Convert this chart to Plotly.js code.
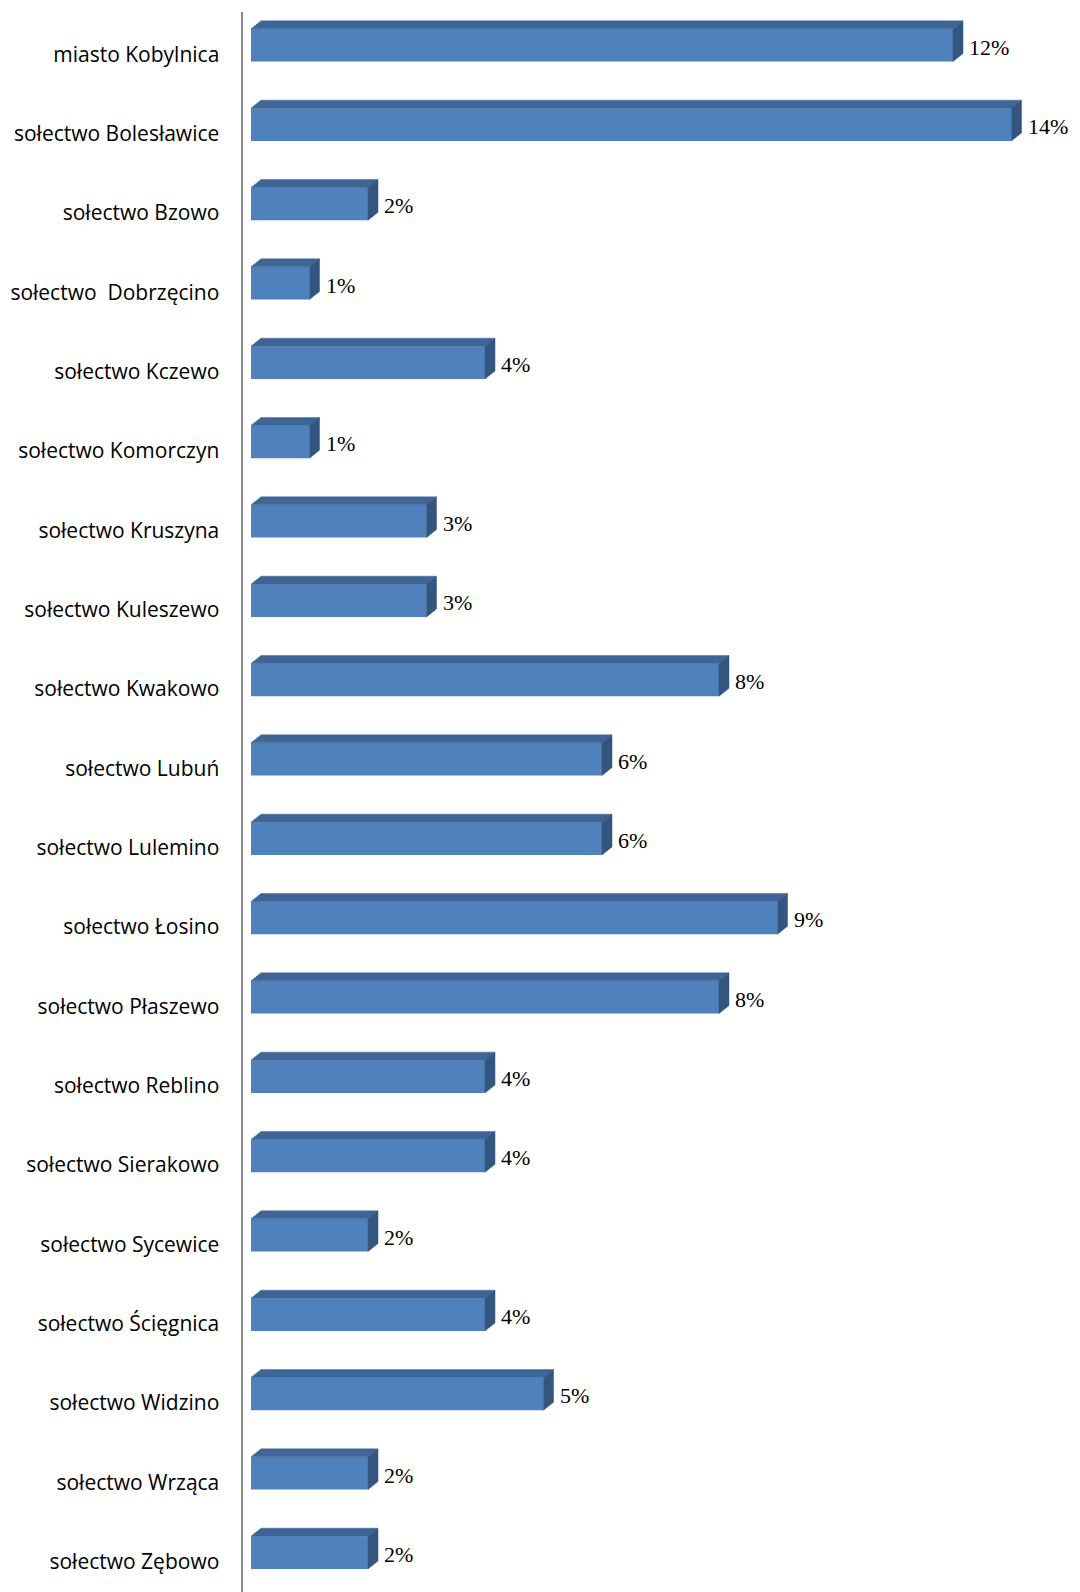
<!DOCTYPE html>
<html><head><meta charset="utf-8">
<script src="https://cdn.plot.ly/plotly-3.0.1.min.js"></script>
<style>html,body{margin:0;padding:0;background:#fff}</style>
</head><body><div id="chart" style="width:1080px;height:1592px"></div>
<script>
const categories = ['miasto Kobylnica','sołectwo Bolesławice','sołectwo Bzowo','sołectwo \u00a0Dobrzęcino','sołectwo Kczewo','sołectwo Komorczyn','sołectwo Kruszyna','sołectwo Kuleszewo','sołectwo Kwakowo','sołectwo Lubuń','sołectwo Lulemino','sołectwo Łosino','sołectwo Płaszewo','sołectwo Reblino','sołectwo Sierakowo','sołectwo Sycewice','sołectwo Ścięgnica','sołectwo Widzino','sołectwo Wrząca','sołectwo Zębowo'];
const values = [12,13,2,1,4,1,3,3,8,6,6,9,8,4,4,2,4,5,2,2];
const percentLabels = ['12%','14%','2%','1%','4%','1%','3%','3%','8%','6%','6%','9%','8%','4%','4%','2%','4%','5%','2%','2%'];

const W = 1080, H = 1592;
const M = {l: 243, r: 0, t: 12, b: 0};
const xRange = [-0.137, 14.171];
const yRange = [19.384, -0.532];
const pxPerX = (W - M.l - M.r) / (xRange[1] - xRange[0]);
const pxPerY = (H - M.t - M.b) / (yRange[0] - yRange[1]);
const barWidth = 32.7 / pxPerY;
const centerShift = -9 / pxPerY;
const depthX = 10 / pxPerX;
const depthY = 8 / pxPerY;

const pos = categories.map((c, i) => i);

const front = {
  type: 'bar', orientation: 'h', x: values, y: pos,
  width: barWidth, offset: centerShift - barWidth / 2,
  marker: {color: '#4F81BD', line: {width: 0}},
  hoverinfo: 'skip', showlegend: false
};

const topX = [], topY = [], sideX = [], sideY = [];
values.forEach((v, i) => {
  const yt = i + centerShift - barWidth / 2;
  const yb = i + centerShift + barWidth / 2;
  topX.push(0, v, v + depthX, depthX, 0, null);
  topY.push(yt, yt, yt - depthY, yt - depthY, yt, null);
  sideX.push(v, v + depthX, v + depthX, v, v, null);
  sideY.push(yt, yt - depthY, yb - depthY, yb, yt, null);
});
const topFace = {type: 'scatter', mode: 'lines', x: topX, y: topY, fill: 'toself',
  fillcolor: '#3E6596', line: {width: 0.5, color: '#3E6596'}, hoverinfo: 'skip', showlegend: false};
const sideFace = {type: 'scatter', mode: 'lines', x: sideX, y: sideY, fill: 'toself',
  fillcolor: '#34557F', line: {width: 0.5, color: '#34557F'}, hoverinfo: 'skip', showlegend: false};

const annotations = values.map((v, i) => ({
  x: v, y: i, xref: 'x', yref: 'y', text: percentLabels[i],
  showarrow: false, xanchor: 'left', yanchor: 'middle', xshift: 14, yshift: 7,
  font: {family: 'Liberation Serif, Times New Roman, serif', size: 22, color: '#000'}
}));

const layout = {
  width: W, height: H, margin: M,
  paper_bgcolor: '#fff', plot_bgcolor: '#fff',
  showlegend: false,
  xaxis: {range: xRange, showgrid: false, zeroline: false, showticklabels: false, showline: false, ticks: '', fixedrange: true},
  yaxis: {range: yRange, tickvals: pos, ticktext: categories, showgrid: false, zeroline: false,
    showline: true, linecolor: '#8C8C8C', linewidth: 2.5, ticks: '', ticklabelstandoff: 17,
    tickfont: {family: 'Open Sans, sans-serif', size: 21, color: '#000'}, fixedrange: true},
  annotations: annotations
};

Plotly.newPlot('chart', [front, topFace, sideFace], layout, {displayModeBar: false, staticPlot: true});
</script>
</body></html>
